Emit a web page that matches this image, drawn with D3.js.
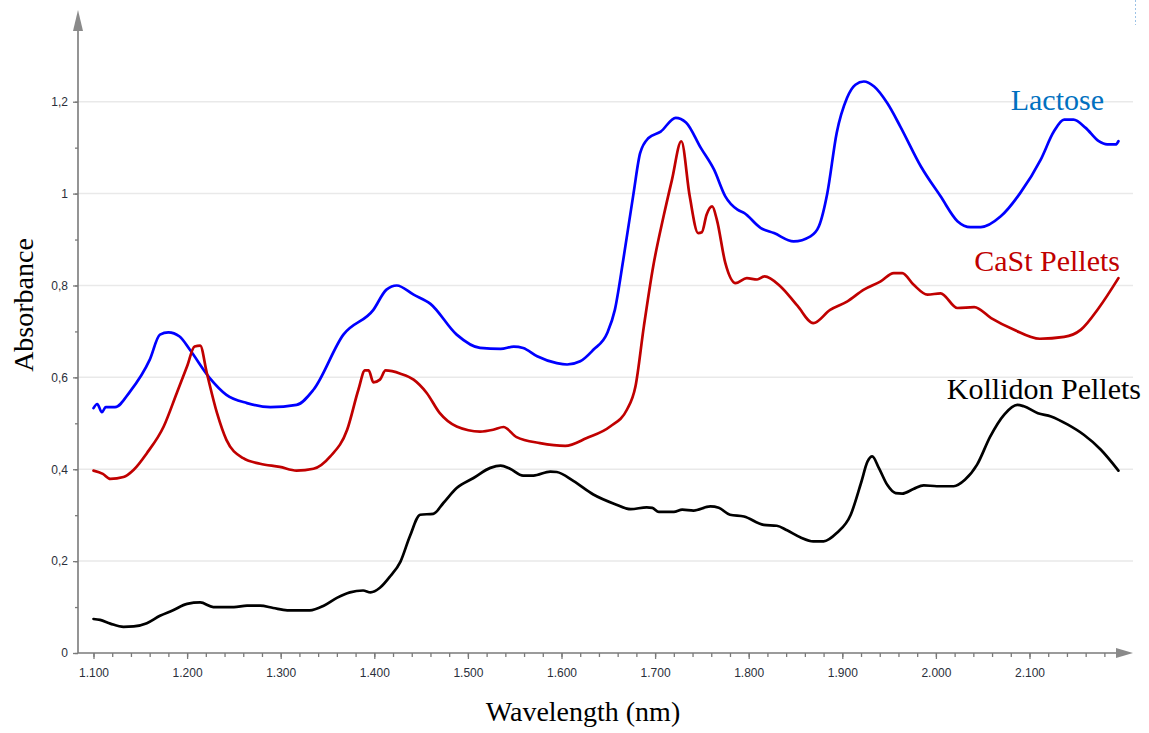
<!DOCTYPE html>
<html>
<head>
<meta charset="utf-8">
<script src="https://cdn.jsdelivr.net/npm/d3@7"></script>
<style>
  html, body { margin: 0; padding: 0; background: #fff; }
  svg { display: block; }
</style>
</head>
<body>
<svg id="chart" width="1149" height="733"></svg>
<script>
// NIR absorbance spectra: wavelength (nm) and absorbance for each sample
const lactoseWl = [1100,1104,1109,1113,1123,1139,1160,1171,1180,1192,1203,1224,1242,1264,1289,1317,1335,1367,1399,1413,1424,1442,1460,1488,1513,1535,1549,1559,1574,1595,1606,1620,1634,1649,1657,1666,1677,1684,1693,1706,1722,1733,1749,1763,1775,1788,1795,1813,1827,1848,1866,1875,1884,1894,1905,1914,1923,1934,1948,1962,1984,2005,2023,2037,2048,2069,2090,2112,2126,2137,2147,2160,2174,2183,2192,2195];
const lactoseAbs = [0.533,0.542,0.524,0.535,0.535,0.569,0.638,0.693,0.698,0.689,0.660,0.599,0.562,0.544,0.535,0.540,0.573,0.693,0.747,0.791,0.800,0.780,0.760,0.693,0.664,0.662,0.667,0.664,0.646,0.631,0.628,0.635,0.660,0.697,0.747,0.856,1.001,1.088,1.121,1.135,1.165,1.155,1.099,1.052,0.994,0.965,0.958,0.925,0.914,0.896,0.907,0.929,1.001,1.132,1.208,1.237,1.244,1.233,1.197,1.146,1.059,0.994,0.940,0.927,0.927,0.950,1.001,1.074,1.135,1.161,1.161,1.143,1.114,1.107,1.107,1.114];

const castWl = [1100,1110,1118,1132,1143,1157,1175,1189,1200,1208,1214,1221,1232,1242,1260,1278,1299,1317,1335,1353,1371,1383,1390,1394,1399,1406,1412,1428,1442,1456,1470,1488,1513,1527,1538,1552,1577,1604,1627,1652,1670,1679,1688,1698,1709,1718,1728,1737,1746,1750,1755,1761,1766,1775,1786,1798,1809,1817,1834,1852,1869,1887,1905,1923,1941,1955,1964,1976,1991,2005,2023,2041,2059,2083,2111,2137,2155,2174,2195];
const castAbs = [0.397,0.390,0.379,0.383,0.399,0.435,0.493,0.566,0.624,0.667,0.669,0.610,0.522,0.464,0.424,0.412,0.405,0.397,0.401,0.428,0.486,0.573,0.615,0.615,0.589,0.595,0.615,0.608,0.595,0.566,0.522,0.493,0.482,0.486,0.492,0.470,0.457,0.451,0.468,0.493,0.530,0.580,0.711,0.842,0.950,1.030,1.114,0.994,0.914,0.916,0.954,0.972,0.943,0.849,0.805,0.816,0.813,0.820,0.798,0.756,0.718,0.747,0.765,0.791,0.809,0.827,0.827,0.802,0.780,0.783,0.751,0.753,0.729,0.704,0.684,0.688,0.704,0.751,0.816];

const kollidonWl = [1100,1107,1118,1132,1143,1157,1171,1185,1200,1214,1228,1250,1264,1278,1292,1307,1331,1346,1360,1374,1388,1396,1406,1417,1428,1438,1449,1463,1474,1488,1506,1524,1535,1545,1559,1570,1588,1595,1613,1634,1656,1674,1691,1697,1704,1720,1729,1741,1759,1768,1780,1795,1816,1830,1841,1855,1869,1880,1894,1909,1920,1927,1932,1939,1948,1957,1964,1976,1987,2001,2019,2031,2044,2058,2073,2087,2094,2109,2123,2141,2158,2176,2195];
const kollidonAbs = [0.074,0.072,0.064,0.057,0.058,0.065,0.081,0.093,0.107,0.110,0.100,0.100,0.103,0.103,0.098,0.093,0.093,0.103,0.120,0.132,0.136,0.132,0.142,0.167,0.199,0.254,0.301,0.303,0.327,0.359,0.381,0.403,0.408,0.401,0.386,0.386,0.395,0.394,0.374,0.345,0.325,0.313,0.317,0.316,0.307,0.307,0.312,0.310,0.319,0.316,0.301,0.297,0.279,0.277,0.267,0.252,0.243,0.243,0.261,0.301,0.370,0.417,0.428,0.403,0.366,0.348,0.347,0.357,0.365,0.363,0.363,0.377,0.410,0.471,0.519,0.540,0.537,0.522,0.515,0.497,0.475,0.443,0.397];

const seriesNames = ["Lactose", "CaSt Pellets", "Kollidon Pellets"];
const seriesColors = ["#0000ff", "#c00000", "#000000"];
const labelColors = ["#0070c0", "#c00000", "#000000"];

const xMajorTicks = [1100,1200,1300,1400,1500,1600,1700,1800,1900,2000,2100];
const xMinorTicks = d3.range(1100, 2181, 20);
const yMajorTicks = [0,0.2,0.4,0.6,0.8,1,1.2];
const yMinorTicks = d3.range(0, 13).map(i => i / 10);

const svg = d3.select("#chart");

const x = d3.scaleLinear().domain([1100, 2100]).range([93.5, 1029.5]);
const y = d3.scaleLinear().domain([0, 1]).range([653, 193.6]);

const axisX0 = 78;      // y axis position
const axisXEnd = 1133;  // x axis arrow tip
const axisY0 = y(0);
const axisYTop = 10;    // y axis arrow tip
const axisColor = "#7a7a7a";

const locale = d3.formatLocale({ decimal: ",", thousands: ".", grouping: [3], currency: ["", ""] });
const fmtX = locale.format(",");
const fmtY = v => locale.format("~g")(+v.toFixed(1));

// horizontal grid lines
svg.append("g").selectAll("line")
  .data(yMajorTicks.filter(v => v > 0))
  .join("line")
  .attr("x1", axisX0).attr("x2", axisXEnd)
  .attr("y1", d => y(d)).attr("y2", d => y(d))
  .attr("stroke", "#e9e9e9").attr("stroke-width", 1.5);

// y axis: minor ticks, then labelled major ticks
const gYMinor = svg.append("g").attr("transform", `translate(${axisX0},0)`)
  .call(d3.axisLeft(y).tickValues(yMinorTicks).tickSize(3).tickFormat(""));
const gY = svg.append("g").attr("transform", `translate(${axisX0},0)`)
  .call(d3.axisLeft(y).tickValues(yMajorTicks).tickSize(5).tickPadding(5).tickFormat(fmtY));

// x axis: minor ticks, then labelled major ticks
const gXMinor = svg.append("g").attr("transform", `translate(0,${axisY0})`)
  .call(d3.axisBottom(x).tickValues(xMinorTicks).tickSize(4).tickFormat(""));
const gX = svg.append("g").attr("transform", `translate(0,${axisY0})`)
  .call(d3.axisBottom(x).tickValues(xMajorTicks).tickSize(6).tickPadding(9).tickFormat(fmtX));

[gYMinor, gY, gXMinor, gX].forEach(g => {
  g.select(".domain").remove();
  g.selectAll(".tick line").attr("stroke", axisColor).attr("stroke-width", 1.3);
  g.selectAll(".tick text")
    .attr("fill", "#2a2f3a")
    .style("font-family", "'Liberation Sans', Arial, sans-serif")
    .style("font-size", "12px");
});

// axis lines with arrow heads
svg.append("line")
  .attr("x1", axisX0).attr("x2", axisX0)
  .attr("y1", axisY0).attr("y2", axisYTop + 18)
  .attr("stroke", axisColor).attr("stroke-width", 1.6);
svg.append("line")
  .attr("x1", axisX0).attr("x2", axisXEnd - 14)
  .attr("y1", axisY0).attr("y2", axisY0)
  .attr("stroke", axisColor).attr("stroke-width", 1.6);
svg.append("path")
  .attr("d", `M${axisX0},${axisYTop} L${axisX0 - 5},${axisYTop + 21} L${axisX0 + 5},${axisYTop + 21} Z`)
  .attr("fill", "#8a8a8a");
svg.append("path")
  .attr("d", `M${axisXEnd},${axisY0} L${axisXEnd - 17},${axisY0 - 5} L${axisXEnd - 17},${axisY0 + 5} Z`)
  .attr("fill", "#8a8a8a");

// spectra
const line = d3.line()
  .x(d => x(d[0]))
  .y(d => y(d[1]))
  .curve(d3.curveMonotoneX);

const series = [
  d3.zip(lactoseWl, lactoseAbs),
  d3.zip(castWl, castAbs),
  d3.zip(kollidonWl, kollidonAbs)
];

svg.append("g").selectAll("path")
  .data(series)
  .join("path")
  .attr("d", line)
  .attr("fill", "none")
  .attr("stroke", (d, i) => seriesColors[i])
  .attr("stroke-width", 2.7)
  .attr("stroke-linejoin", "round")
  .attr("stroke-linecap", "round");

// series names, right-aligned near the end of each spectrum
const labelPos = [
  { xr: 1104, yb: 110 },
  { xr: 1120, yb: 271 },
  { xr: 1141, yb: 399 }
];
svg.append("g").selectAll("text")
  .data(seriesNames)
  .join("text")
  .attr("x", (d, i) => labelPos[i].xr)
  .attr("y", (d, i) => labelPos[i].yb)
  .attr("text-anchor", "end")
  .attr("fill", (d, i) => labelColors[i])
  .style("font-family", "'Liberation Serif', 'Times New Roman', serif")
  .style("font-size", "30px")
  .text(d => d);

// axis titles
svg.append("text")
  .attr("x", 583).attr("y", 721)
  .attr("text-anchor", "middle")
  .style("font-family", "'Liberation Serif', 'Times New Roman', serif")
  .style("font-size", "28px")
  .attr("fill", "#000")
  .text("Wavelength (nm)");

svg.append("text")
  .attr("transform", "translate(33,305) rotate(-90)")
  .attr("text-anchor", "middle")
  .style("font-family", "'Liberation Serif', 'Times New Roman', serif")
  .style("font-size", "28px")
  .attr("fill", "#000")
  .text("Absorbance");

// selection frame edge at the top right
svg.append("line")
  .attr("x1", 1135.5).attr("x2", 1135.5)
  .attr("y1", 0).attr("y2", 25)
  .attr("stroke", "#9dc3e6").attr("stroke-width", 1)
  .attr("stroke-dasharray", "2,2");
</script>
</body>
</html>
